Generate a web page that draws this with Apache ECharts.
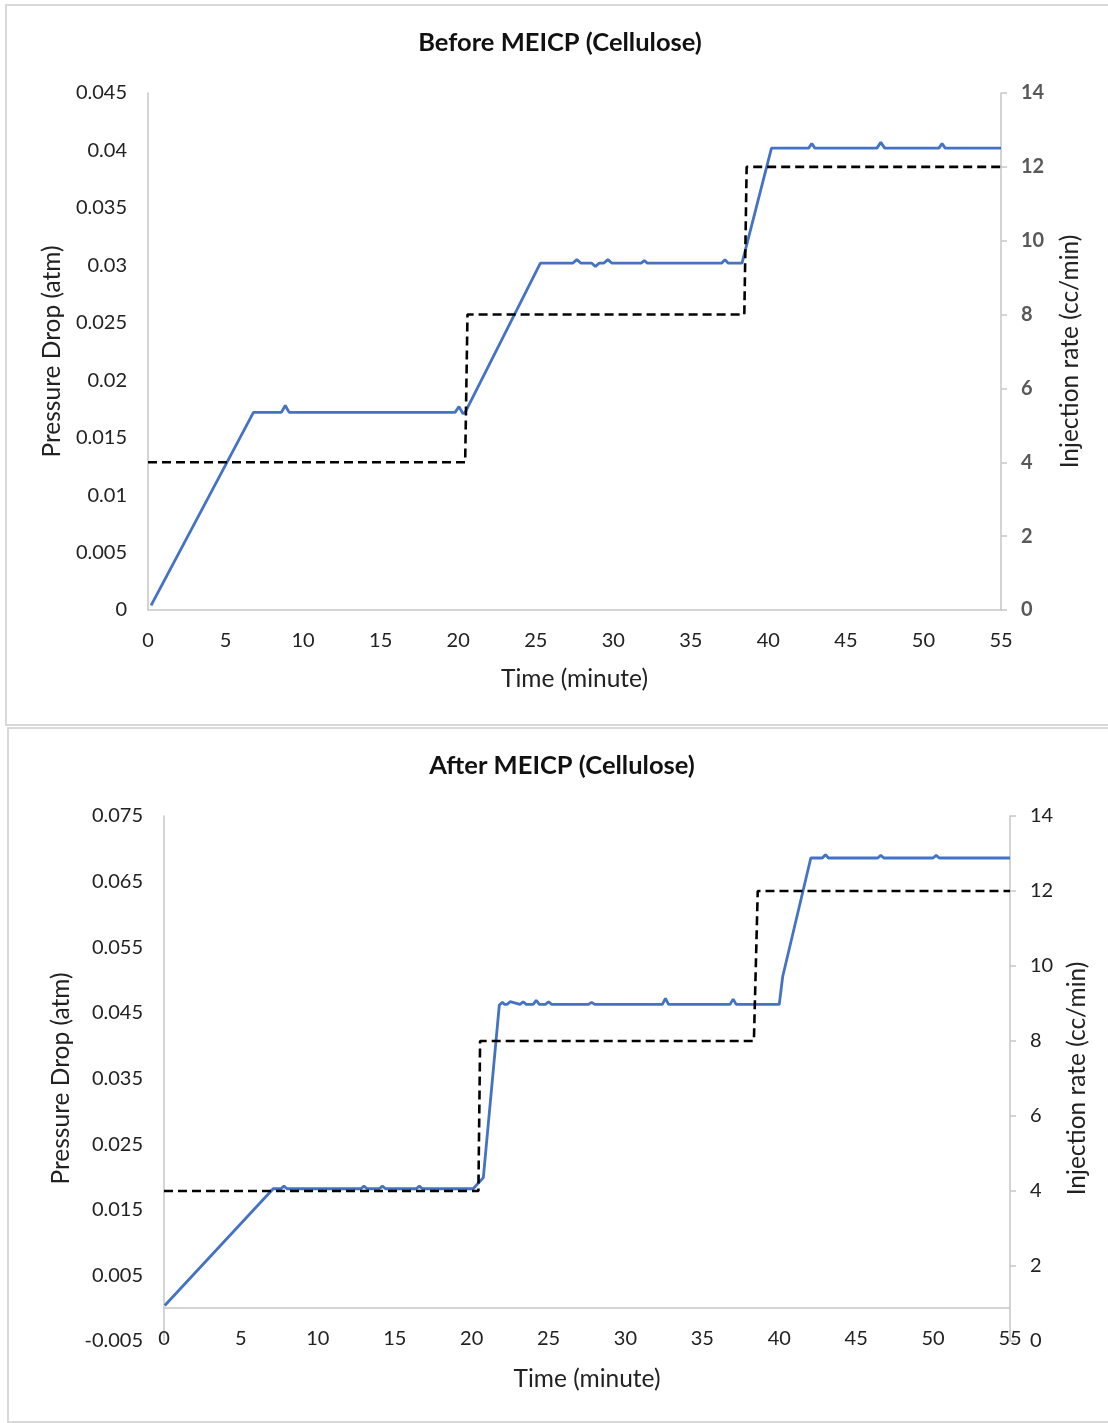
<!DOCTYPE html>
<html>
<head>
<meta charset="utf-8">
<title>MEICP (Cellulose) pressure drop</title>
<script src="https://cdn.jsdelivr.net/npm/echarts@6/dist/echarts.min.js"></script>
<style>
  html, body { margin: 0; padding: 0; background: #ffffff; }
  #chart { width: 1108px; height: 1423px; }
</style>
</head>
<body>
<div id="chart"></div>
<script>
// ---- Before MEICP: pressure drop (atm) vs time (minute)
const beforeTime = [0.2, 6.8, 8.6, 8.85, 9.1, 19.8, 20.05, 20.3, 20.45, 25.3,
  27.4, 27.65, 27.9, 28.6, 28.85, 29.1, 29.4, 29.65, 29.9, 31.8, 32.0, 32.2,
  37.0, 37.2, 37.4, 38.3, 40.2, 42.6, 42.8, 43.0, 47.0, 47.25, 47.5,
  51.0, 51.2, 51.4, 55.0];
const beforePressure = [0.0004, 0.0172, 0.0172, 0.0178, 0.0172, 0.0172, 0.0177, 0.0171, 0.0172, 0.0302,
  0.0302, 0.0305, 0.0302, 0.0302, 0.0299, 0.0302, 0.0302, 0.0305, 0.0302, 0.0302, 0.0304, 0.0302,
  0.0302, 0.0305, 0.0302, 0.0302, 0.0402, 0.0402, 0.0406, 0.0402, 0.0402, 0.0407, 0.0402,
  0.0402, 0.0406, 0.0402, 0.0402];

// ---- Before MEICP: injection rate (cc/min)
const beforeRateTime = [0, 20.45, 20.6, 38.45, 38.6, 55];
const beforeRate = [4, 4, 8, 8, 12, 12];

// ---- After MEICP: pressure drop (atm) vs time (minute)
const afterTime = [0.05, 7.1, 7.6, 7.8, 8.0, 12.8, 13.0, 13.2, 14.0, 14.2, 14.4,
  16.4, 16.6, 16.8, 20.1, 20.76, 21.8, 22.0, 22.15, 22.3, 22.5, 23.15, 23.35, 23.55,
  24.0, 24.2, 24.4, 24.8, 25.0, 25.2, 27.6, 27.8, 28.0, 32.4, 32.6, 32.8,
  36.8, 37.0, 37.2, 40.0, 40.22, 42.05, 42.8, 43.0, 43.2, 46.4, 46.6, 46.8,
  50.0, 50.2, 50.4, 55.0];
const afterPressure = [0.0004, 0.0182, 0.0182, 0.0186, 0.0182, 0.0182, 0.0186, 0.0182, 0.0182, 0.0186, 0.0182,
  0.0182, 0.0186, 0.0182, 0.0182, 0.0199, 0.0462, 0.0466, 0.0463, 0.0463, 0.0467, 0.0463, 0.0467, 0.0463,
  0.0463, 0.0469, 0.0463, 0.0463, 0.0467, 0.0463, 0.0463, 0.0466, 0.0463, 0.0463, 0.0472, 0.0463,
  0.0463, 0.0471, 0.0463, 0.0463, 0.0505, 0.0686, 0.0686, 0.0691, 0.0686, 0.0686, 0.0690, 0.0686,
  0.0686, 0.0690, 0.0686, 0.0686];

// ---- After MEICP: injection rate (cc/min)
const afterRateTime = [0, 20.44, 20.55, 38.35, 38.6, 55];
const afterRate = [4, 4, 8, 8, 12, 12];

// ---- Axis settings
const timeTicks = { min: 0, max: 55, interval: 5 };
const beforePressureTicks = { min: 0, max: 0.045, interval: 0.005 };
const afterPressureTicks = { min: -0.005, max: 0.075, interval: 0.01 };
const rateTicks = { min: 0, max: 14, interval: 2 };

const FONT = 'Lato, "Open Sans", sans-serif';
const AXIS_GRAY = '#c6c6c6';
const BLUE = '#4472C4';
const NAME_SIZE = 24.5;
const TICK_SIZE = 20;

const pairs = (xs, ys) => xs.map((x, i) => [x, ys[i]]);
const fmtPressure = v => String(+v.toFixed(3));

// labelMargin / nameGap are measured from the bottom edge of the plot area
function timeAxis(gridIndex, labelMargin, nameGap) {
  return {
    type: 'value', gridIndex,
    min: timeTicks.min, max: timeTicks.max, interval: timeTicks.interval,
    name: 'Time (minute)', nameLocation: 'middle', nameGap,
    nameTextStyle: { fontFamily: FONT, fontSize: NAME_SIZE, color: '#222' },
    axisLine: { show: true, onZero: true, lineStyle: { color: AXIS_GRAY, width: 1.5 } },
    axisTick: { show: false },
    splitLine: { show: false },
    axisLabel: { margin: labelMargin, fontFamily: FONT, fontSize: TICK_SIZE, color: '#222' }
  };
}

function pressureAxis(gridIndex, ticks, gap) {
  return {
    type: 'value', gridIndex, position: 'left',
    min: ticks.min, max: ticks.max, interval: ticks.interval,
    name: 'Pressure Drop (atm)', nameLocation: 'middle', nameGap: gap,
    nameTextStyle: { fontFamily: FONT, fontSize: NAME_SIZE, color: '#222' },
    axisLine: { show: true, onZero: false, lineStyle: { color: AXIS_GRAY, width: 1.5 } },
    axisTick: { show: false },
    splitLine: { show: false },
    axisLabel: { margin: 21, fontFamily: FONT, fontSize: TICK_SIZE, color: '#222', formatter: fmtPressure }
  };
}

function rateAxis(gridIndex, gap, labelStyle) {
  return {
    type: 'value', gridIndex, position: 'right',
    min: rateTicks.min, max: rateTicks.max, interval: rateTicks.interval,
    name: 'Injection rate (cc/min)', nameLocation: 'middle', nameGap: gap,
    nameTextStyle: { fontFamily: FONT, fontSize: NAME_SIZE, color: '#222' },
    axisLine: { show: true, onZero: false, lineStyle: { color: AXIS_GRAY, width: 1.5 } },
    axisTick: { show: true, inside: false, length: 6, lineStyle: { color: AXIS_GRAY, width: 1.5 } },
    splitLine: { show: false },
    axisLabel: Object.assign({ margin: 20, fontFamily: FONT, fontSize: TICK_SIZE }, labelStyle)
  };
}

function pressureSeries(xi, yi, data) {
  return {
    type: 'line', xAxisIndex: xi, yAxisIndex: yi, data,
    showSymbol: false, silent: true, smooth: false,
    lineStyle: { color: BLUE, width: 2.8 }, z: 2
  };
}

function rateSeries(xi, yi, data) {
  return {
    type: 'line', xAxisIndex: xi, yAxisIndex: yi, data,
    showSymbol: false, silent: true,
    lineStyle: { color: '#000', width: 2.6, type: [9, 5] }, z: 3
  };
}

const chart = echarts.init(document.getElementById('chart'), null, { renderer: 'canvas' });

chart.setOption({
  backgroundColor: '#ffffff',
  animation: false,
  graphic: [
    { type: 'rect', shape: { x: 6, y: 5, width: 1120, height: 720 },
      style: { fill: 'none', stroke: '#d9d9d9', lineWidth: 2 }, silent: true },
    { type: 'rect', shape: { x: 8, y: 728, width: 1120, height: 694 },
      style: { fill: 'none', stroke: '#d9d9d9', lineWidth: 2 }, silent: true },
    { type: 'text', x: 560, y: 43, silent: true,
      style: { text: 'Before MEICP (Cellulose)', fontFamily: FONT, fontWeight: 'bold', fontSize: 25.5,
               fill: '#111', align: 'center', verticalAlign: 'middle' } },
    { type: 'text', x: 562, y: 766, silent: true,
      style: { text: 'After MEICP (Cellulose)', fontFamily: FONT, fontWeight: 'bold', fontSize: 25.5,
               fill: '#111', align: 'center', verticalAlign: 'middle' } }
  ],
  grid: [
    { left: 148, top: 93, width: 853, height: 517, containLabel: false },
    { left: 164, top: 816, width: 846, height: 525, containLabel: false }
  ],
  xAxis: [timeAxis(0, 21, 57), timeAxis(1, -12, 26)],
  yAxis: [
    pressureAxis(0, beforePressureTicks, 81),
    rateAxis(0, 57, { color: '#595959', fontWeight: 'bold' }),
    pressureAxis(1, afterPressureTicks, 88),
    rateAxis(1, 55, { color: '#222' })
  ],
  series: [
    pressureSeries(0, 0, pairs(beforeTime, beforePressure)),
    rateSeries(0, 1, pairs(beforeRateTime, beforeRate)),
    pressureSeries(1, 2, pairs(afterTime, afterPressure)),
    rateSeries(1, 3, pairs(afterRateTime, afterRate))
  ]
});
</script>
</body>
</html>
